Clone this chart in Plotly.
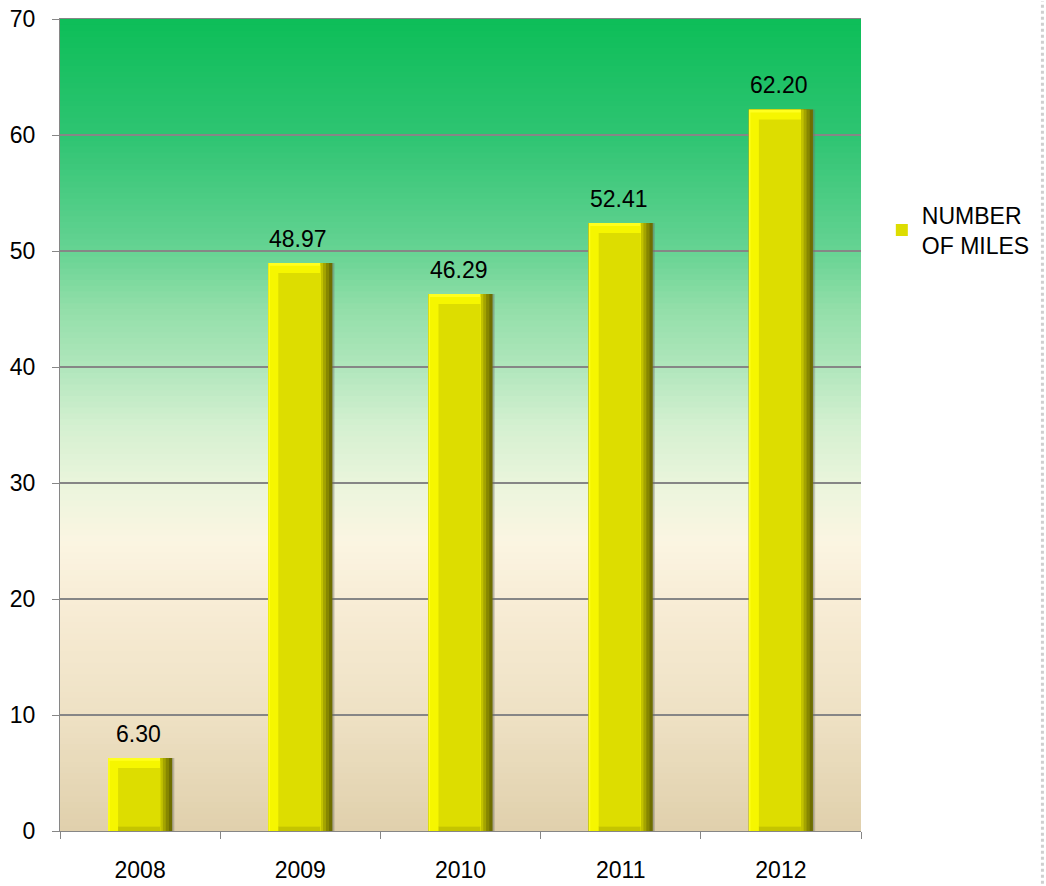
import plotly.graph_objects as go

years = ["2008", "2009", "2010", "2011", "2012"]
miles = [6.30, 48.97, 46.29, 52.41, 62.20]
series_name = "NUMBER<br>OF MILES"
y_ticks = [0, 10, 20, 30, 40, 50, 60, 70]

# background gradient stops (value, rgb)
grad_stops = [
    (0, (224, 208, 172)), (10, (238, 225, 196)), (20, (248, 237, 214)),
    (25, (251, 245, 226)), (30, (234, 245, 220)), (35, (212, 240, 208)),
    (40, (176, 230, 188)), (45, (147, 223, 169)), (50, (102, 211, 147)),
    (60, (46, 196, 114)), (70, (13, 190, 88)),
]

def grad_color(v):
    for (a, ca), (b, cb) in zip(grad_stops[:-1], grad_stops[1:]):
        if a <= v <= b:
            t = (v - a) / (b - a)
            c = [round(ca[i] + (cb[i] - ca[i]) * t) for i in range(3)]
            return f"rgb({c[0]},{c[1]},{c[2]})"
    return "rgb(13,190,88)"

W = 0.4
left_bev = 0.0625
right_bev = 0.075
top_bev = 0.86
bottom_bev = 0.4
FONT = "Liberation Sans, Arial"

fig = go.Figure()


def layer(yvals, width, offset, color, base=None, **kw):
    fig.add_trace(go.Bar(x=years, y=yvals, width=width, offset=offset, base=base,
                         marker=dict(color=color, line=dict(width=0)),
                         showlegend=False, hoverinfo="skip", **kw))


# shadow
layer(miles, W, -W / 2 + 0.014, "rgba(110,110,100,0.30)")
layer(miles, W, -W / 2 + 0.007, "rgba(110,110,100,0.30)")
# right bevel shades (dark outer -> lighter inner)
layer(miles, W, -W / 2, "#6E6E00")
layer(miles, W - 0.02, -W / 2, "#878700")
layer(miles, W - 0.04, -W / 2, "#A4A400")
layer(miles, W - 0.058, -W / 2, "#C2C200")
# bright left/top bevel
layer(miles, W - right_bev, -W / 2, "#FFFF1E")
layer([v - 0.25 for v in miles], W - right_bev - 0.01, -W / 2 + 0.01, "#F6F600")
# bottom bevel
layer([bottom_bev] * len(miles), W - left_bev - right_bev, -W / 2 + left_bev, "#C4C400")
# main face
fig.add_trace(go.Bar(x=years, y=[v - top_bev - bottom_bev for v in miles], base=bottom_bev,
                     width=W - left_bev - right_bev, offset=-W / 2 + left_bev,
                     marker=dict(color="#DDDD00", line=dict(width=0)),
                     name=series_name, showlegend=True, hoverinfo="skip"))

annotations = [dict(x=i, y=v, xref="x", yref="y", text=f"{v:.2f}", showarrow=False,
                    yanchor="bottom", yshift=9, xshift=-2,
                    font=dict(size=23, color="black", family=FONT))
               for i, v in enumerate(miles)]

shapes = []
n = 140
step = 70 / n
for i in range(n):
    y0 = step * i
    shapes.append(dict(type="rect", xref="paper", yref="y", x0=0, x1=1, y0=y0,
                       y1=min(70, y0 + step * 2),
                       fillcolor=grad_color(y0 + step / 2), line=dict(width=0), layer="below"))
# dotted border at right edge of the page
shapes.append(dict(type="line", xref="paper", yref="paper", x0=1.2265, x1=1.2265, y0=-0.065, y1=1.022,
                   line=dict(color="#CFCFCF", width=3, dash="dot"), layer="above"))

fig.update_layout(
    width=1046, height=886,
    margin=dict(l=60, r=185, t=19, b=55, autoexpand=False),
    paper_bgcolor="white", plot_bgcolor="rgba(0,0,0,0)",
    barmode="overlay",
    shapes=shapes,
    annotations=annotations,
    font=dict(family=FONT, size=23, color="black"),
    legend=dict(x=1.026, y=0.785, xanchor="left", yanchor="top",
                font=dict(size=23), bgcolor="rgba(0,0,0,0)", itemwidth=30,
                tracegroupgap=0),
    xaxis=dict(type="category", range=[-0.5, 4.5], showgrid=False, showline=True,
               linecolor="#868686", linewidth=1, mirror=True,
               ticks="outside", tickson="boundaries", ticklen=7, tickcolor="#868686",
               ticklabelstandoff=18, tickfont=dict(size=23), automargin=False),
    yaxis=dict(range=[0, 70], tickvals=y_ticks, showgrid=True, gridcolor="#868686", gridwidth=1.5,
               showline=True, linecolor="#868686", linewidth=1, zeroline=False,
               ticks="outside", ticklen=7, tickcolor="#868686", ticklabelstandoff=12,
               tickfont=dict(size=23), automargin=False),
)

fig.write_html("out.html", config={"displayModeBar": False})
with open("out.html", "r", encoding="utf-8") as f:
    html = f.read()
html = html.replace("<body>", '<body style="margin:0;padding:0;overflow:hidden">', 1)
with open("out.html", "w", encoding="utf-8") as f:
    f.write(html)
